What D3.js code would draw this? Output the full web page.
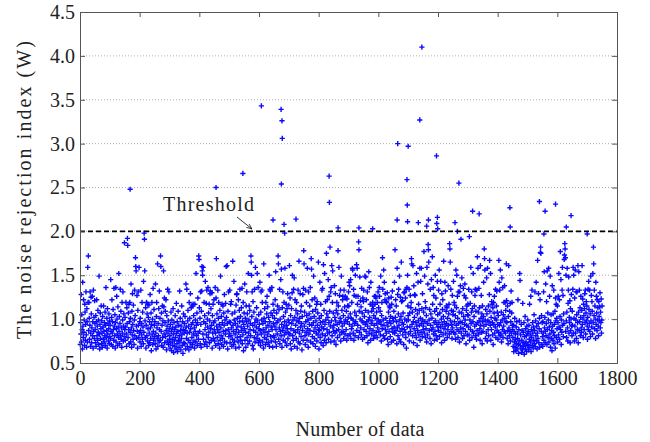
<!DOCTYPE html>
<html>
<head>
<meta charset="utf-8">
<script src="https://cdn.jsdelivr.net/npm/d3@7"></script>
<style>
  body { margin: 0; background: #fff; }
  text { font-family: "Liberation Serif", "DejaVu Serif", serif; fill: #222; }
</style>
</head>
<body>
<svg id="chart" width="650" height="442"></svg>
<script>
// values in hundredths, consecutive data numbers starting at 1
var seg1 = [
  71,96,83,128,74,105,88,66,142,92, 79,122,85,99,70,117,108,76,94,131, 82,68,112,97,74,159,119,172,87,119, 101,77,93,131,69,84,125,106,73,90, 126,81,97,67,133,86,102,78,121,95,
  88,73,104,69,97,122,81,92,76,110, 85,99,71,149,83,66,94,107,78,89, 115,72,98,84,68,103,91,77,115,86, 74,96,81,108,70,93,136,79,87,101, 67,112,83,95,75,89,106,72,98,80,
  93,78,145,86,71,102,122,84,97,69, 111,88,76,135,92,81,105,67,96,136, 74,89,126,100,83,70,114,91,79,152, 86,103,72,95,134,81,109,77,90,68, 119,84,99,131,75,92,106,80,187,88,
  102,76,91,119,83,69,113,95,192,184, 79,107,88,117,72,97,119,85,101,74, 140,90,68,109,82,129,94,77,116,87, 71,99,133,81,104,170,160,155,92,78, 127,86,67,110,131,93,79,159,84,97,
  74,101,87,133,69,95,82,119,77,108, 91,72,143,85,198,191,155,98,79,113, 67,93,119,81,106,75,117,89,102,70, 116,84,97,73,128,90,78,107,64,94, 119,82,100,71,135,86,76,111,93,80
];
var seg2 = [
  97,72,140,84,66,103,119,90,78,163, 69,95,81,112,74,132,88,101,76,172, 160,86,107,70,93,115,79,98,68,155, 114,83,124,73,96,109,80,122,87,65, 104,92,75,134,84,98,71,131,89,77,
  81,67,94,73,108,86,64,99,77,90, 70,112,83,62,96,75,88,69,104,79, 91,66,118,84,72,97,63,86,109,76, 93,68,81,132,74,101,87,65,92,78, 115,83,70,97,61,88,106,73,84,95,
  72,103,87,66,140,91,78,134,84,69, 98,110,76,92,65,119,85,101,73,129, 89,68,113,94,79,115,71,96,117,83, 104,75,90,67,117,86,99,74,152,93, 81,107,70,96,124,84,77,172,168,113,
  86,101,72,131,94,68,109,132,160,155, 150,83,159,77,97,119,71,104,88,143, 95,74,118,82,133,69,100,91,136,79, 107,85,117,73,98,129,132,89,112,76, 93,130,67,104,84,117,78,96,122,88,
  75,98,136,84,70,124,169,92,106,79, 88,133,72,101,119,85,94,67,110,76, 149,90,81,103,71,117,96,78,115,86, 69,107,93,128,74,99,83,118,87,160, 102,73,161,95,66,109,88,131,80,97
];
var seg3 = [
  84,133,73,96,117,81,120,90,69,106, 77,166,93,86,71,143,99,75,108,83, 95,67,116,88,128,129,79,101,92,74, 122,85,68,110,97,134,80,103,76,91, 113,87,135,72,98,82,119,64,94,107,
  89,140,76,101,85,68,115,97,131,79, 106,92,72,152,84,99,115,75,110,88, 95,81,172,165,150,103,131,70,93,120, 66,87,108,79,134,96,74,159,85,100, 91,113,78,152,98,82,136,73,105,89,
  94,76,142,87,70,108,131,83,99,133, 119,74,95,88,67,163,101,79,112,85, 97,71,119,90,77,106,126,82,114,93, 73,102,86,150,69,97,134,132,80,107, 91,75,136,88,104,68,117,95,81,110,
  79,101,92,122,74,154,88,69,107,96, 83,115,98,172,163,77,111,90,134,72, 100,86,145,81,157,94,68,113,87,131, 76,103,91,119,82,97,158,74,108,85, 117,93,70,112,89,129,78,99,84,116,
  96,161,83,124,72,104,89,66,112,95, 130,150,81,99,76,134,87,147,69,102, 122,85,93,110,78,119,98,67,106,88, 133,74,97,166,84,101,72,129,91,109, 80,115,95,65,103,87,128,76,135,178
];
var seg4 = [
  163,92,108,81,71,133,97,85,119,104, 76,158,89,99,68,131,83,106,94,115, 87,136,74,101,169,157,93,122,80,109, 72,96,149,86,103,78,124,90,69,111, 98,84,117,75,120,93,107,82,165,88,
  66,101,87,142,79,96,117,73,104,91, 133,83,135,97,70,162,89,110,76,152, 94,81,120,99,73,175,106,88,122,84, 102,145,77,96,126,85,109,182,92,131, 74,136,98,161,81,119,155,90,107,86,
  93,75,138,102,84,129,98,71,110,87, 119,94,79,106,178,115,88,159,96,127, 82,101,133,75,97,149,85,110,92,122, 126,86,104,78,133,95,114,83,126,99, 124,88,109,76,123,97,115,81,102,131,
  115,142,94,138,83,106,145,78,101,89, 119,92,158,156,99,84,134,76,127,95, 108,81,150,97,126,104,162,87,158,117, 93,126,79,188,179,109,85,148,100,121, 90,114,82,135,98,107,77,124,96,120,
  133,88,103,79,149,94,110,148,86,122, 97,81,131,92,73,108,99,154,84,136, 102,89,117,76,142,95,83,109,98,115, 119,87,112,78,104,93,126,81,117,101, 126,124,85,108,95,79,119,90,131,99
];
var seg5 = [
  113,86,136,126,97,109,82,149,94,75, 104,119,89,170,134,99,81,156,93,142, 78,122,129,88,101,120,84,119,96,130, 77,92,71,108,124,86,115,98,113,80, 103,95,125,74,117,89,132,101,85,98,
  76,109,91,142,84,179,102,122,87,115, 97,72,158,90,128,81,106,134,93,77, 149,99,86,125,74,103,165,120,89,96, 121,82,107,94,71,130,88,131,100,85, 124,79,134,67,98,136,91,150,115,104,
  99,83,134,75,107,91,127,86,113,119, 169,163,94,108,81,161,97,73,138,89, 102,128,127,84,111,96,79,152,92,70, 106,87,142,98,117,82,110,93,158,76, 101,143,85,158,95,112,80,129,99,88,
  92,108,177,84,149,97,120,79,113,89, 104,74,159,95,82,140,185,179,165,99, 87,111,78,134,93,106,72,145,88,101, 171,117,90,136,83,127,96,76,109,86, 150,98,124,81,112,94,77,143,105,91,
  87,133,96,156,80,107,117,91,143,85, 100,73,129,94,111,122,82,103,166,89, 97,76,142,92,132,84,109,115,95,113, 79,101,88,138,93,106,117,83,186,180, 165,98,134,86,110,94,78,127,90,105
];
var seg6 = [
  109,143,85,119,97,116,83,104,77,156, 93,113,150,88,126,101,79,131,95,86, 108,74,131,97,138,90,191,84,107,147, 96,78,112,89,135,103,81,127,94,140, 99,86,124,72,110,93,115,82,105,117,
  104,91,134,82,194,76,99,118,88,159, 95,108,131,79,112,86,97,152,84,68, 103,115,92,127,134,81,109,94,77,133, 87,171,96,158,108,83,135,98,113,89, 76,161,93,101,127,85,106,72,115,97,
  86,103,142,92,180,169,156,99,78,111, 94,84,147,106,75,158,98,88,115,81, 97,128,167,109,93,152,76,102,88,120, 117,96,82,113,71,119,94,107,126,84, 101,91,134,79,99,115,132,87,108,94,
  77,104,85,167,142,93,133,81,156,96, 83,108,74,147,99,88,136,79,105,92, 119,86,138,101,119,84,110,97,163,121, 96,78,115,87,72,103,161,90,81,109, 86,118,75,97,132,84,107,119,93,88,
  79,69,93,63,86,74,101,68,83,77, 64,91,72,97,66,84,78,122,71,61, 88,75,98,152,144,70,82,67,94,62, 76,87,65,118,73,85,69,96,60,80, 72,103,66,89,74,81,63,92,70,84
];
var seg7 = [
  99,71,86,65,93,77,117,68,82,74, 126,63,88,79,133,70,96,84,67,91, 76,105,72,87,131,69,98,81,142,75, 92,66,84,167,78,95,129,73,89,101, 68,122,176,182,175,86,104,71,96,80,
  69,97,84,131,76,154,90,102,73,86, 140,81,95,120,71,155,88,107,79,99, 158,74,91,126,83,149,68,96,105,78, 87,64,138,92,76,106,85,133,72,94, 81,109,67,124,98,117,79,101,89,115,
  74,96,126,82,152,91,122,77,103,177, 88,145,71,99,85,133,159,93,127,80, 106,95,168,173,186,180,170,86,150,98, 79,108,158,90,75,118,133,148,84,102, 96,121,73,112,87,100,128,92,81,109,
  93,134,159,84,150,101,75,124,92,156, 84,99,131,78,105,131,88,96,161,73, 108,154,87,133,97,113,81,102,126,90, 85,110,161,94,123,100,79,117,104,88, 112,129,96,133,83,107,120,98,115,92,
  77,102,134,88,143,111,95,133,86,106, 80,149,98,127,91,120,109,83,152,96, 182,163,104,133,89,115,100,78,142,94, 126,107,87,122,99,113,92,81,120,103, 98,114,130,90,108,96,123,84,99,115
];

// points near or above the threshold
var outlierIdx = [168, 456, 546, 608, 674, 677, 678, 675, 647, 684, 686, 724, 835, 836,
  865, 935, 981, 1063, 1065, 1096, 1097, 1098, 1100, 1134, 1139, 1146, 1162, 1168,
  1195, 1196, 1198, 1199, 1257, 1265, 1270, 1316, 1338, 1441, 1442, 1540, 1555,
  1559, 1594, 1630, 1646, 1700];
var outlierVal = [2.48, 2.50, 2.66, 3.43, 3.39, 3.26, 3.06, 2.54, 2.13, 2.08, 1.98, 2.14, 2.63, 2.33,
  2.04, 2.04, 2.03, 2.13, 3.00, 2.59, 2.30, 2.11, 2.97, 2.10, 3.27, 4.10, 2.06, 2.13,
  2.86, 2.09, 2.16, 2.03, 2.10, 2.00, 2.55, 2.23, 2.20, 2.27, 2.05, 2.34, 1.97,
  2.23, 2.31, 2.05, 2.18, 1.97];

var xTicks = [0, 200, 400, 600, 800, 1000, 1200, 1400, 1600, 1800];
var yTicks = [0.5, 1.0, 1.5, 2.0, 2.5, 3.0, 3.5, 4.0, 4.5];
var threshold = 2.0;

var svg = d3.select("#chart");
var margin = {left: 80, right: 33, top: 12, bottom: 79};
var width = 650 - margin.left - margin.right;
var height = 442 - margin.top - margin.bottom;

var x = d3.scaleLinear().domain([0, 1800]).range([0, width]);
var y = d3.scaleLinear().domain([0.5, 4.5]).range([height, 0]);

var g = svg.append("g")
    .attr("transform", "translate(" + margin.left + "," + margin.top + ")");

// grid
g.append("g")
    .selectAll("line")
    .data(yTicks.filter(function(d) { return d > 0.5 && d < 4.5; }))
    .enter().append("line")
    .attr("x1", 0).attr("x2", width)
    .attr("y1", function(d) { return y(d); })
    .attr("y2", function(d) { return y(d); })
    .attr("stroke", "#999")
    .attr("stroke-width", 0.8)
    .attr("stroke-dasharray", "1,2");

// data
var bulk = [].concat(seg1, seg2, seg3, seg4, seg5, seg6, seg7);
var points = bulk.map(function(v, i) { return {n: i + 1, v: v / 100}; });
for (var i = 0; i < outlierIdx.length; i++) {
    points.push({n: outlierIdx[i], v: outlierVal[i]});
}

g.append("g")
    .selectAll("path")
    .data(points)
    .enter().append("path")
    .attr("transform", function(d) { return "translate(" + x(d.n) + "," + y(d.v) + ")"; })
    .attr("d", "M-2.6,0H2.6M0,-2.6V2.6")
    .attr("stroke", "#0a0aff")
    .attr("stroke-width", 1.4);

// threshold
g.append("line")
    .attr("x1", 0).attr("x2", width)
    .attr("y1", y(threshold)).attr("y2", y(threshold))
    .attr("stroke", "#000")
    .attr("stroke-width", 1.6)
    .attr("stroke-dasharray", "5,3");

// axes with inward ticks
var xAxis = d3.axisBottom(x).tickValues(xTicks).tickSize(-5).tickPadding(8).tickFormat(d3.format("d"));
var yAxis = d3.axisLeft(y).tickValues(yTicks).tickSize(-5).tickPadding(5).tickFormat(d3.format(".1f"));

function styleAxis(sel) {
    sel.select(".domain").attr("stroke", "#555");
    sel.selectAll(".tick line").attr("stroke", "#555");
    sel.selectAll("text").attr("font-size", 20).attr("font-family", "Liberation Serif, serif").attr("fill", "#222");
}

g.append("g").attr("transform", "translate(0," + height + ")").call(xAxis).call(styleAxis);
g.append("g").call(yAxis).call(styleAxis);
g.append("g").call(d3.axisTop(x).tickValues(xTicks).tickSize(-5).tickFormat(""))
    .call(styleAxis);
g.append("g").attr("transform", "translate(" + width + ",0)")
    .call(d3.axisRight(y).tickValues(yTicks).tickSize(-5).tickFormat(""))
    .call(styleAxis);

// labels
svg.append("text")
    .attr("x", 360).attr("y", 436)
    .attr("text-anchor", "middle")
    .attr("font-size", 20)
    .attr("textLength", 129)
    .text("Number of data");

svg.append("text")
    .attr("transform", "translate(31,190) rotate(-90)")
    .attr("text-anchor", "middle")
    .attr("font-size", 20)
    .attr("textLength", 298)
    .text("The noise rejection index (W)");

// annotation
svg.append("text")
    .attr("x", 163).attr("y", 211)
    .attr("font-size", 20)
    .attr("textLength", 91)
    .text("Threshold");

svg.append("defs").append("marker")
    .attr("id", "arrow")
    .attr("viewBox", "0 0 10 10")
    .attr("refX", 10).attr("refY", 5)
    .attr("markerWidth", 7).attr("markerHeight", 7)
    .attr("orient", "auto")
    .append("path")
    .attr("d", "M0,1L10,5L0,9")
    .attr("fill", "none")
    .attr("stroke", "#000")
    .attr("stroke-width", 1.2);

svg.append("line")
    .attr("x1", 237).attr("y1", 217)
    .attr("x2", 252).attr("y2", 229)
    .attr("stroke", "#000")
    .attr("stroke-width", 0.8)
    .attr("marker-end", "url(#arrow)");
</script>
</body>
</html>
